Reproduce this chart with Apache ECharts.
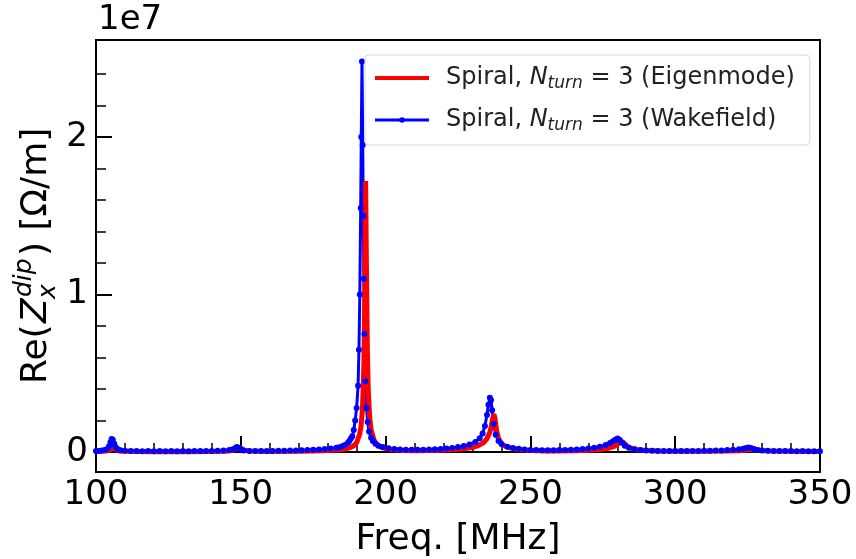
<!DOCTYPE html>
<html>
<head>
<meta charset="utf-8">
<script src="https://cdn.jsdelivr.net/npm/echarts@6/dist/echarts.min.js"></script>
<style>
  html, body { margin: 0; padding: 0; background: #fff; }
  #main { width: 856px; height: 559px; }
</style>
</head>
<body>
<div id="main"></div>
<script>
// Re(Z) in units of 1e7 Ohm/m: [freq MHz, value]
const eigenPoints = [
  [100,0.004],[102,0.005],[104,0.008],[105,0.014],[105.5,0.022],[106,0.03],[106.5,0.024],[107,0.013],
  [108,0.007],[110,0.004],[120,0.002],[130,0.002],[140,0.003],[145,0.005],[147,0.009],[148,0.016],
  [148.8,0.028],[149.4,0.035],[150,0.026],[151,0.012],[153,0.006],[160,0.003],[170,0.004],[175,0.006],
  [180,0.009],[184,0.014],[186,0.019],[188,0.03],[189,0.04],[190,0.06],[191,0.11],[191.5,0.16],
  [192,0.27],[192.5,0.55],[192.8,0.98],[193.1,1.72],[193.4,1.15],[193.7,0.65],[194,0.4],[194.5,0.22],
  [195,0.14],[196,0.075],[197,0.048],[198,0.034],[200,0.022],[203,0.014],[206,0.01],[210,0.008],
  [215,0.009],[220,0.012],[225,0.017],[228,0.023],[230,0.029],[232,0.04],[234,0.062],[235,0.085],
  [236,0.125],[236.5,0.165],[237,0.215],[237.4,0.24],[237.8,0.21],[238.3,0.14],[239,0.085],[240,0.055],
  [241,0.04],[243,0.026],[246,0.016],[250,0.01],[255,0.007],[260,0.007],[265,0.008],[270,0.011],
  [274,0.016],[277,0.024],[279,0.036],[280,0.048],[281,0.06],[281.7,0.066],[282.5,0.054],[283.5,0.035],
  [285,0.022],[287,0.014],[290,0.009],[295,0.006],[300,0.004],[310,0.004],[318,0.006],[322,0.008],
  [324,0.011],[326,0.015],[327,0.016],[328,0.013],[330,0.009],[333,0.006],[340,0.004],[350,0.003]
];

const wakePoints = [
  [100,0.006],[101,0.007],[102,0.009],[103,0.012],[104,0.02],[104.5,0.036],[105,0.062],[105.4,0.083],
  [105.8,0.078],[106.3,0.052],[106.8,0.03],[107.5,0.017],[108.5,0.011],[110,0.008],[112,0.006],[114,0.007],
  [116,0.005],[118,0.006],[120,0.005],[122,0.006],[124,0.005],[126,0.006],[128,0.005],[130,0.006],
  [132,0.005],[134,0.006],[136,0.006],[138,0.007],[140,0.007],[142,0.008],[144,0.009],[146,0.012],
  [147,0.016],[148,0.024],[148.6,0.032],[149.2,0.027],[150,0.016],[151,0.01],[153,0.007],[155,0.006],
  [157,0.006],[159,0.007],[161,0.007],[163,0.008],[165,0.008],[167,0.009],[169,0.01],[171,0.011],
  [173,0.012],[175,0.014],[177,0.016],[179,0.019],[181,0.022],[183,0.027],[184,0.03],[185,0.036],
  [186,0.045],[187,0.058],[187.5,0.07],[188,0.085],[188.5,0.1],[189,0.14],[189.5,0.2],[190,0.28],
  [190.5,0.42],[190.8,0.65],[191.1,1.0],[191.4,1.55],[191.6,2.0],[191.85,2.48],[192.1,1.95],[192.3,1.5],
  [192.5,1.1],[192.7,0.75],[193,0.45],[193.4,0.28],[193.8,0.19],[194.3,0.13],[195,0.09],[195.6,0.07],
  [196.5,0.052],[197.5,0.04],[199,0.031],[201,0.024],[203,0.019],[205,0.016],[207,0.015],[209,0.014],
  [211,0.014],[213,0.015],[215,0.016],[217,0.017],[219,0.019],[221,0.022],[223,0.026],[225,0.031],
  [227,0.038],[229,0.048],[231,0.064],[232.5,0.088],[233.5,0.118],[234.3,0.165],[235,0.235],[235.5,0.3],
  [236,0.345],[236.4,0.33],[236.8,0.265],[237.3,0.18],[238,0.11],[239,0.07],[240,0.05],[242,0.034],
  [244,0.025],[246,0.02],[248,0.016],[250,0.013],[252,0.012],[254,0.011],[256,0.011],[258,0.011],
  [260,0.012],[262,0.013],[264,0.014],[266,0.016],[268,0.019],[270,0.022],[272,0.027],[274,0.034],
  [276,0.044],[277.5,0.057],[278.5,0.068],[279.3,0.078],[280.1,0.085],[280.9,0.076],[281.7,0.058],[282.6,0.04],
  [284,0.027],[286,0.018],[288,0.013],[290,0.01],[292,0.008],[294,0.007],[296,0.007],[298,0.006],
  [300,0.006],[302,0.006],[304,0.006],[306,0.007],[308,0.007],[310,0.008],[312,0.008],[314,0.009],
  [316,0.01],[318,0.012],[320,0.014],[322,0.017],[323.5,0.021],[324.5,0.026],[325.3,0.029],[326.2,0.025],
  [327.2,0.019],[328.5,0.013],[330,0.01],[332,0.008],[334,0.007],[336,0.006],[338,0.006],[340,0.006],
  [342,0.005],[344,0.006],[346,0.005],[348,0.005],[350,0.005]
];

const yMajorTicks = [0, 1, 2];
const yMinorTicks = [0.2, 0.4, 0.6, 0.8, 1.2, 1.4, 1.6, 1.8, 2.2, 2.4];
const seriesNames = ['Eigenmode', 'Wakefield'];

const FONT = 'DejaVu Sans';
const chart = echarts.init(document.getElementById('main'));

const yRange = { min: -0.127, max: 2.616 };

const option = {
  animation: false,
  textStyle: { fontFamily: FONT },
  grid: {
    left: 96, right: 36, top: 40, bottom: 87,
    outerBoundsMode: 'none',
    containLabel: false,
    show: true, borderColor: '#000', borderWidth: 2
  },
  legend: {
    data: [
      { name: seriesNames[0], itemStyle: { opacity: 0 }, lineStyle: { width: 4 } },
      { name: seriesNames[1], lineStyle: { width: 3 } }
    ],
    orient: 'vertical',
    left: 365, top: 55,
    padding: [8, 15, 10, 8],
    itemGap: 12,
    itemWidth: 54, itemHeight: 7,
    backgroundColor: 'rgba(255,255,255,0.8)',
    borderColor: '#d6d6d6', borderWidth: 1, borderRadius: 4,
    formatter: function (name) {
      return 'Spiral, {it|N}{sub|turn} = 3 (' + name + ')';
    },
    textStyle: {
      fontFamily: FONT, fontSize: 24, color: '#222', lineHeight: 30,
      padding: [0, 0, 0, 12],
      rich: {
        it: { fontFamily: FONT, fontSize: 24, fontStyle: 'italic', color: '#222' },
        sub: { fontFamily: FONT, fontSize: 17, fontStyle: 'italic', color: '#222', padding: [12, 0, 0, 0] }
      }
    }
  },
  xAxis: {
    type: 'value',
    min: 100, max: 350, interval: 50,
    name: 'Freq. [MHz]',
    nameLocation: 'middle',
    nameGap: 50,
    nameTextStyle: { fontFamily: FONT, fontSize: 36, color: '#000' },
    axisLine: { lineStyle: { color: '#000', width: 2 } },
    axisTick: { inside: true, length: 16, lineStyle: { color: '#000', width: 2 } },
    minorTick: { show: true, splitNumber: 5, length: 9, lineStyle: { color: '#000', width: 1.5 } },
    splitLine: { show: false },
    axisLabel: { fontFamily: FONT, fontSize: 34, color: '#000', margin: 6 }
  },
  yAxis: [
    {
      type: 'value',
      min: yRange.min, max: yRange.max,
      splitLine: { show: false },
      axisLine: { show: true, lineStyle: { color: '#000', width: 2 } },
      axisTick: { show: true, inside: true, length: 16, customValues: yMajorTicks,
        lineStyle: { color: '#000', width: 2 } },
      axisLabel: { customValues: yMajorTicks, fontFamily: FONT, fontSize: 34, color: '#000', margin: 8 }
    },
    {
      type: 'value',
      min: yRange.min, max: yRange.max,
      position: 'left',
      splitLine: { show: false },
      axisLine: { show: false },
      axisTick: { show: true, inside: true, length: 10, customValues: yMinorTicks,
        lineStyle: { color: '#000', width: 1.5 } },
      axisLabel: { show: false }
    }
  ],
  graphic: [
    {
      type: 'text', left: 98, top: 3,
      style: { text: '1e7', fontFamily: FONT, fontSize: 34, fill: '#000' }
    },
    {
      type: 'group', x: 37, y: 256, rotation: Math.PI / 2,
      children: [
        { type: 'text', style: { text: 'Re(', x: -128, y: 0, fontFamily: FONT, fontSize: 36, fill: '#000', align: 'left', verticalAlign: 'middle' } },
        { type: 'text', style: { text: 'Z', x: -67, y: 0, fontFamily: FONT, fontSize: 36, fontStyle: 'italic', fill: '#000', align: 'left', verticalAlign: 'middle' } },
        { type: 'text', style: { text: 'dip', x: -41, y: -13, fontFamily: FONT, fontSize: 25, fontStyle: 'italic', fill: '#000', align: 'left', verticalAlign: 'middle' } },
        { type: 'text', style: { text: 'x', x: -43, y: 11, fontFamily: FONT, fontSize: 25, fontStyle: 'italic', fill: '#000', align: 'left', verticalAlign: 'middle' } },
        { type: 'text', style: { text: ') [\u03A9/m]', x: 0, y: 0, fontFamily: FONT, fontSize: 36, fill: '#000', align: 'left', verticalAlign: 'middle' } }
      ]
    }
  ],
  series: [
    {
      name: seriesNames[1],
      type: 'line',
      data: wakePoints,
      color: '#0000ff',
      symbol: 'circle',
      symbolSize: 6,
      lineStyle: { width: 3, color: '#0000ff' },
      itemStyle: { color: '#0000ff' }
    },
    {
      name: seriesNames[0],
      type: 'line',
      data: eigenPoints,
      color: '#ff0000',
      symbol: 'none',
      lineStyle: { width: 5, color: '#ff0000' }
    }
  ]
};

chart.setOption(option);
</script>
</body>
</html>
